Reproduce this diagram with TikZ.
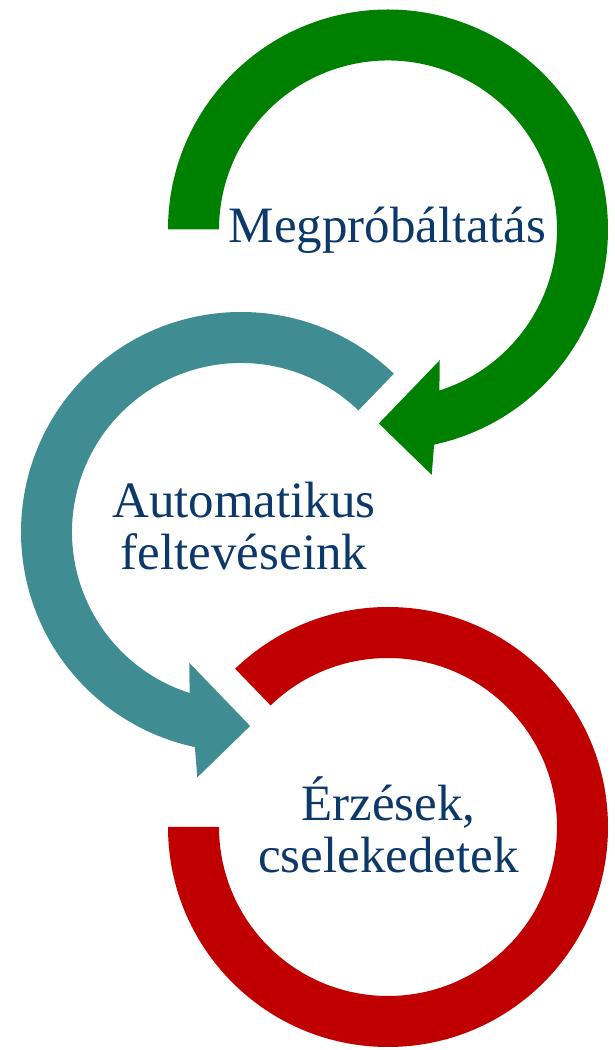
\documentclass[tikz,border=0pt]{standalone}
\usepackage{fontspec}
\setmainfont{Liberation Serif}
\usepackage{tikz}
\usetikzlibrary{calc}
\definecolor{arrowgreen}{RGB}{0,128,0}
\definecolor{arrowteal}{RGB}{64,140,147}
\definecolor{arrowred}{RGB}{192,0,0}
\definecolor{labelblue}{RGB}{12,56,106}

\begin{document}
\begin{tikzpicture}[x=1pt, y=1pt]
\tikzstyle{label text}=[text=labelblue, font=\fontsize{51}{52}\selectfont, align=center, inner sep=0]
\tikzstyle{green arrow}=[fill=arrowgreen]
\tikzstyle{teal arrow}=[fill=arrowteal]
\tikzstyle{red ring}=[fill=arrowred]

\useasboundingbox (0,0) rectangle (615,1050);

% centres of the three rings
\coordinate (proba) at (388,820.5);
\coordinate (feltev) at (241,518);
\coordinate (erzes) at (388,223);

% Megprobaltatas ring, head points down-left
\fill[green arrow, shift={(proba)}] (180:220)
  arc[start angle=180, end angle=-77.9, radius=220]
  -- (-79.9:249.2) -- (-92.7:194.2) -- (-68.4:140.6) -- (-72.3:169)
  arc[start angle=-72.3, end angle=180, radius=169] -- cycle;

% Automatikus feltevesek ring, head points down-right
\fill[teal arrow, shift={(feltev)}] (46:220)
  arc[start angle=46, end angle=257.9, radius=220]
  -- (259.9:249.2) -- (272.7:194.2) -- (248.4:140.6) -- (252.3:169)
  arc[start angle=252.3, end angle=46, radius=169] -- cycle;

% Erzesek ring, no head
\fill[red ring, shift={(erzes)}] (180:220)
  arc[start angle=180, end angle=494, radius=220]
  -- (494:169)
  arc[start angle=494, end angle=180, radius=169] -- cycle;

% labels
\node[label text] (probatext) at (387.5,819.5) {Megpróbáltatás};
\node[label text] (feltevtext) at (244,524) {Automatikus\\feltevéseink};
\node[label text] (erzestext) at (388.5,225) {Érzések,\\cselekedetek};
\end{tikzpicture}
\end{document}
